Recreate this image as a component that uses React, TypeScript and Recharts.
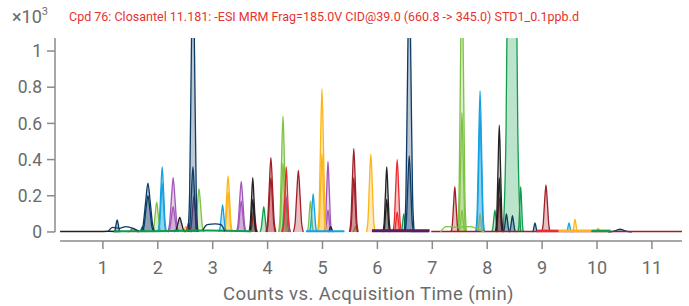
import { Area, ComposedChart, Line, ReferenceLine, XAxis, YAxis } from "recharts";

type Pt = [number, number];

const TITLE = "Cpd 76: Closantel 11.181: -ESI MRM Frag=185.0V CID@39.0 (660.8 -> 345.0) STD1_0.1ppb.d";
const X_TICKS = [1, 2, 3, 4, 5, 6, 7, 8, 9, 10, 11];
const Y_TICKS = [0, 0.2, 0.4, 0.6, 0.8, 1];

// flat / noisy baselines (t, counts x10^3)
const blackBase: Pt[] = [[0.22, 0.002], [0.6, 0.003], [0.9, 0.002], [1.1, 0.004], [1.3, 0.002]];
const navyBase: Pt[] = [[1.1, 0.005], [1.18, 0.025], [1.3, 0.02], [1.42, 0.03], [1.55, 0.02], [1.65, 0.005]];
const navyBase2: Pt[] = [[2.82, 0.01], [2.9, 0.04], [3.05, 0.045], [3.15, 0.04], [3.22, 0.005]];
const navyTail: Pt[] = [[6.6, 0.003], [6.93, 0.003]];
const purpleBase: Pt[] = [[5.9, 0.006], [6.95, 0.006]];
const darkRedBase: Pt[] = [[6.98, 0.003], [11.55, 0.003]];
const redBase: Pt[] = [[8.9, 0.006], [9.3, 0.006]];
const yellowBase: Pt[] = [[9.3, 0.006], [9.9, 0.006]];
const greenBase: Pt[] = [[1.2, 0.004], [1.9, 0.004], [2.9, 0.008], [3.7, 0.004]];
const greenBase2: Pt[] = [[9.9, 0.006], [10.25, 0.006]];
const skyBase: Pt[] = [[4.7, 0.004], [5.4, 0.004]];
const limeNoise: Pt[] = [[7.15, 0], [7.25, 0.03], [7.45, 0.025], [7.7, 0.03], [7.85, 0.012], [7.95, 0]];

// peaks per trace colour
const navyPeaks: Pt[][] = [
  [[1.2, 0], [1.22, 0.009], [1.24, 0.04], [1.26, 0.066], [1.28, 0.04], [1.3, 0.009], [1.32, 0]],
  [[1.69, 0], [1.733, 0.038], [1.777, 0.162], [1.82, 0.27], [1.863, 0.162], [1.907, 0.038], [1.95, 0]],
  [[1.71, 0], [1.747, 0.028], [1.783, 0.12], [1.82, 0.2], [1.857, 0.12], [1.893, 0.028], [1.93, 0]],
  [[2.55, 0], [2.58, 0.22], [2.61, 0.96], [2.64, 1.6], [2.67, 0.96], [2.7, 0.22], [2.73, 0]],
  [[2.56, 0], [2.587, 0.05], [2.613, 0.216], [2.64, 0.36], [2.667, 0.216], [2.693, 0.05], [2.72, 0]],
  [[6.49, 0], [6.52, 0.21], [6.55, 0.9], [6.58, 1.5], [6.61, 0.9], [6.64, 0.21], [6.67, 0]],
  [[6.5, 0], [6.527, 0.059], [6.553, 0.252], [6.58, 0.42], [6.607, 0.252], [6.633, 0.059], [6.66, 0]],
  [[8.29, 0], [8.31, 0.014], [8.33, 0.06], [8.35, 0.1], [8.37, 0.06], [8.39, 0.014], [8.41, 0]],
  [[8.4, 0], [8.42, 0.013], [8.44, 0.054], [8.46, 0.09], [8.48, 0.054], [8.5, 0.013], [8.52, 0]],
  [[8.82, 0], [8.837, 0.007], [8.853, 0.03], [8.87, 0.05], [8.887, 0.03], [8.903, 0.007], [8.92, 0]],
  [[10.2, 0], [10.27, 0.002], [10.35, 0.009], [10.42, 0.015], [10.49, 0.009], [10.57, 0.002], [10.64, 0]],
];
const skyPeaks: Pt[][] = [
  [[2.0, 0], [2.027, 0.05], [2.053, 0.216], [2.08, 0.36], [2.107, 0.216], [2.133, 0.05], [2.16, 0]],
  [[2.01, 0], [2.033, 0.038], [2.057, 0.162], [2.08, 0.27], [2.103, 0.162], [2.127, 0.038], [2.15, 0]],
  [[3.11, 0], [3.133, 0.021], [3.157, 0.09], [3.18, 0.15], [3.203, 0.09], [3.227, 0.021], [3.25, 0]],
  [[4.76, 0], [4.783, 0.029], [4.807, 0.126], [4.83, 0.21], [4.853, 0.126], [4.877, 0.029], [4.9, 0]],
  [[7.79, 0], [7.817, 0.109], [7.843, 0.468], [7.87, 0.78], [7.897, 0.468], [7.923, 0.109], [7.95, 0]],
  [[7.8, 0], [7.823, 0.092], [7.847, 0.396], [7.87, 0.66], [7.893, 0.396], [7.917, 0.092], [7.94, 0]],
  [[9.44, 0], [9.457, 0.007], [9.473, 0.03], [9.49, 0.05], [9.507, 0.03], [9.523, 0.007], [9.54, 0]],
];
const purplePeaks: Pt[][] = [
  [[2.18, 0], [2.213, 0.042], [2.247, 0.18], [2.28, 0.3], [2.313, 0.18], [2.347, 0.042], [2.38, 0]],
  [[2.19, 0], [2.22, 0.02], [2.25, 0.084], [2.28, 0.14], [2.31, 0.084], [2.34, 0.02], [2.37, 0]],
  [[3.43, 0], [3.46, 0.039], [3.49, 0.168], [3.52, 0.28], [3.55, 0.168], [3.58, 0.039], [3.61, 0]],
  [[3.44, 0], [3.467, 0.024], [3.493, 0.102], [3.52, 0.17], [3.547, 0.102], [3.573, 0.024], [3.6, 0]],
  [[4.26, 0], [4.287, 0.027], [4.313, 0.114], [4.34, 0.19], [4.367, 0.114], [4.393, 0.027], [4.42, 0]],
  [[5.03, 0], [5.053, 0.055], [5.077, 0.234], [5.1, 0.39], [5.123, 0.234], [5.147, 0.055], [5.17, 0]],
  [[5.04, 0], [5.06, 0.017], [5.08, 0.072], [5.1, 0.12], [5.12, 0.072], [5.14, 0.017], [5.16, 0]],
];
const magentaPeaks: Pt[][] = [
  [[2.58, 0], [2.607, 0.028], [2.633, 0.12], [2.66, 0.2], [2.687, 0.12], [2.713, 0.028], [2.74, 0]],
];
const limePeaks: Pt[][] = [
  [[1.9, 0], [1.927, 0.023], [1.953, 0.099], [1.98, 0.165], [2.007, 0.099], [2.033, 0.023], [2.06, 0]],
  [[2.66, 0], [2.69, 0.034], [2.72, 0.144], [2.75, 0.24], [2.78, 0.144], [2.81, 0.034], [2.84, 0]],
  [[4.2, 0], [4.227, 0.09], [4.253, 0.384], [4.28, 0.64], [4.307, 0.384], [4.333, 0.09], [4.36, 0]],
  [[4.21, 0], [4.233, 0.053], [4.257, 0.228], [4.28, 0.38], [4.303, 0.228], [4.327, 0.053], [4.35, 0]],
  [[4.72, 0], [4.74, 0.024], [4.76, 0.102], [4.78, 0.17], [4.8, 0.102], [4.82, 0.024], [4.84, 0]],
  [[5.55, 0], [5.567, 0.004], [5.583, 0.018], [5.6, 0.03], [5.617, 0.018], [5.633, 0.004], [5.65, 0]],
  [[7.46, 0], [7.487, 0.21], [7.513, 0.9], [7.54, 1.5], [7.567, 0.9], [7.593, 0.21], [7.62, 0]],
  [[7.47, 0], [7.493, 0.092], [7.517, 0.396], [7.54, 0.66], [7.563, 0.396], [7.587, 0.092], [7.61, 0]],
  [[7.48, 0], [7.5, 0.017], [7.52, 0.072], [7.54, 0.12], [7.56, 0.072], [7.58, 0.017], [7.6, 0]],
];
const greenPeaks: Pt[][] = [
  [[1.66, 0], [1.68, 0.004], [1.7, 0.018], [1.72, 0.03], [1.74, 0.018], [1.76, 0.004], [1.78, 0]],
  [[3.86, 0], [3.883, 0.02], [3.907, 0.084], [3.93, 0.14], [3.953, 0.084], [3.977, 0.02], [4.0, 0]],
  [[4.25, 0], [4.273, 0.032], [4.297, 0.138], [4.32, 0.23], [4.343, 0.138], [4.367, 0.032], [4.39, 0]],
  [[6.43, 0], [6.447, 0.014], [6.463, 0.06], [6.48, 0.1], [6.497, 0.06], [6.513, 0.014], [6.53, 0]],
  [[8.08, 0], [8.1, 0.017], [8.12, 0.072], [8.14, 0.12], [8.16, 0.072], [8.18, 0.017], [8.2, 0]],
  [[8.29, 0], [8.343, 0.56], [8.397, 2.4], [8.45, 4], [8.503, 2.4], [8.557, 0.56], [8.61, 0]],
  [[8.56, 0], [8.577, 0.035], [8.593, 0.15], [8.61, 0.25], [8.627, 0.15], [8.643, 0.035], [8.66, 0]],
];
const redPeaks: Pt[][] = [
  [[1.45, 0], [1.483, 0.003], [1.517, 0.012], [1.55, 0.02], [1.583, 0.012], [1.617, 0.003], [1.65, 0]],
  [[2.5, 0], [2.52, 0.007], [2.54, 0.03], [2.56, 0.05], [2.58, 0.03], [2.6, 0.007], [2.62, 0]],
  [[3.68, 0], [3.703, 0.017], [3.727, 0.072], [3.75, 0.12], [3.773, 0.072], [3.797, 0.017], [3.82, 0]],
  [[4.27, 0], [4.293, 0.05], [4.317, 0.216], [4.34, 0.36], [4.363, 0.216], [4.387, 0.05], [4.41, 0]],
  [[6.28, 0], [6.307, 0.056], [6.333, 0.24], [6.36, 0.4], [6.387, 0.24], [6.413, 0.056], [6.44, 0]],
  [[6.3, 0], [6.32, 0.015], [6.34, 0.066], [6.36, 0.11], [6.38, 0.066], [6.4, 0.015], [6.42, 0]],
  [[8.16, 0], [8.18, 0.027], [8.2, 0.114], [8.22, 0.19], [8.24, 0.114], [8.26, 0.027], [8.28, 0]],
];
const darkRedPeaks: Pt[][] = [
  [[3.97, 0], [4.0, 0.057], [4.03, 0.246], [4.06, 0.41], [4.09, 0.246], [4.12, 0.057], [4.15, 0]],
  [[3.98, 0], [4.007, 0.042], [4.033, 0.18], [4.06, 0.3], [4.087, 0.18], [4.113, 0.042], [4.14, 0]],
  [[4.47, 0], [4.5, 0.048], [4.53, 0.204], [4.56, 0.34], [4.59, 0.204], [4.62, 0.048], [4.65, 0]],
  [[5.49, 0], [5.517, 0.064], [5.543, 0.276], [5.57, 0.46], [5.597, 0.276], [5.623, 0.064], [5.65, 0]],
  [[5.5, 0], [5.523, 0.042], [5.547, 0.18], [5.57, 0.3], [5.593, 0.18], [5.617, 0.042], [5.64, 0]],
  [[7.34, 0], [7.363, 0.035], [7.387, 0.15], [7.41, 0.25], [7.433, 0.15], [7.457, 0.035], [7.48, 0]],
  [[8.99, 0], [9.017, 0.036], [9.043, 0.156], [9.07, 0.26], [9.097, 0.156], [9.123, 0.036], [9.15, 0]],
];
const yellowPeaks: Pt[][] = [
  [[2.45, 0], [2.47, 0.004], [2.49, 0.018], [2.51, 0.03], [2.53, 0.018], [2.55, 0.004], [2.57, 0]],
  [[3.2, 0], [3.227, 0.043], [3.253, 0.186], [3.28, 0.31], [3.307, 0.186], [3.333, 0.043], [3.36, 0]],
  [[3.21, 0], [3.233, 0.031], [3.257, 0.132], [3.28, 0.22], [3.303, 0.132], [3.327, 0.031], [3.35, 0]],
  [[4.91, 0], [4.937, 0.111], [4.963, 0.474], [4.99, 0.79], [5.017, 0.474], [5.043, 0.111], [5.07, 0]],
  [[4.92, 0], [4.943, 0.06], [4.967, 0.258], [4.99, 0.43], [5.013, 0.258], [5.037, 0.06], [5.06, 0]],
  [[5.8, 0], [5.827, 0.06], [5.853, 0.258], [5.88, 0.43], [5.907, 0.258], [5.933, 0.06], [5.96, 0]],
  [[7.82, 0], [7.837, 0.014], [7.853, 0.06], [7.87, 0.1], [7.887, 0.06], [7.903, 0.014], [7.92, 0]],
  [[9.55, 0], [9.567, 0.01], [9.583, 0.042], [9.6, 0.07], [9.617, 0.042], [9.633, 0.01], [9.65, 0]],
  [[9.96, 0], [9.98, 0.003], [10.0, 0.012], [10.02, 0.02], [10.04, 0.012], [10.06, 0.003], [10.08, 0]],
];
const blackPeaks: Pt[][] = [
  [[2.3, 0], [2.333, 0.011], [2.367, 0.048], [2.4, 0.08], [2.433, 0.048], [2.467, 0.011], [2.5, 0]],
  [[3.66, 0], [3.683, 0.042], [3.707, 0.18], [3.73, 0.3], [3.753, 0.18], [3.777, 0.042], [3.8, 0]],
  [[3.67, 0], [3.69, 0.025], [3.71, 0.108], [3.73, 0.18], [3.75, 0.108], [3.77, 0.025], [3.79, 0]],
  [[5.1, 0], [5.117, 0.004], [5.133, 0.018], [5.15, 0.03], [5.167, 0.018], [5.183, 0.004], [5.2, 0]],
  [[6.1, 0], [6.123, 0.05], [6.147, 0.216], [6.17, 0.36], [6.193, 0.216], [6.217, 0.05], [6.24, 0]],
  [[6.11, 0], [6.13, 0.025], [6.15, 0.108], [6.17, 0.18], [6.19, 0.108], [6.21, 0.025], [6.23, 0]],
  [[8.15, 0], [8.173, 0.083], [8.197, 0.354], [8.22, 0.59], [8.243, 0.354], [8.267, 0.083], [8.29, 0]],
  [[8.16, 0], [8.18, 0.042], [8.2, 0.18], [8.22, 0.3], [8.24, 0.18], [8.26, 0.042], [8.28, 0]],
];

const NAVY = "#0d3b66";
const SKY = "#14a2e2";
const PURPLE = "#a156b8";
const MAGENTA = "#8a2c6c";
const LIME = "#7dc242";
const GREEN = "#0f9d4b";
const RED = "#ec2a2f";
const DARK_RED = "#a01f29";
const YELLOW = "#fdb515";
const BLACK = "#222222";
const AXIS = "#8a8a8a";
const TEXT = "#6b6b6b";

const baselines: { color: string; pts: Pt[]; width: number }[] = [
  { color: BLACK, pts: blackBase, width: 1.5 },
  { color: GREEN, pts: greenBase, width: 2 },
  { color: SKY, pts: skyBase, width: 2 },
  { color: NAVY, pts: navyBase, width: 1.3 },
  { color: NAVY, pts: navyBase2, width: 1.3 },
  { color: NAVY, pts: navyTail, width: 1.5 },
  { color: "#5a1c5e", pts: purpleBase, width: 3 },
  { color: DARK_RED, pts: darkRedBase, width: 1.5 },
  { color: RED, pts: redBase, width: 2.5 },
  { color: YELLOW, pts: yellowBase, width: 2.5 },
  { color: GREEN, pts: greenBase2, width: 2.5 },
  { color: LIME, pts: limeNoise, width: 1.3 },
];

const groups: { color: string; peaks: Pt[][] }[] = [
  { color: GREEN, peaks: greenPeaks },
  { color: LIME, peaks: limePeaks },
  { color: PURPLE, peaks: purplePeaks },
  { color: MAGENTA, peaks: magentaPeaks },
  { color: YELLOW, peaks: yellowPeaks },
  { color: SKY, peaks: skyPeaks },
  { color: DARK_RED, peaks: darkRedPeaks },
  { color: RED, peaks: redPeaks },
  { color: BLACK, peaks: blackPeaks },
  { color: NAVY, peaks: navyPeaks },
];

const toRows = (pts: Pt[]) => pts.map(([t, v]) => ({ t, v }));

const X_MIN = 0.1275;
const X_MAX = 11.548;
const Y_MIN = -0.05;
const Y_MAX = 1.072;

export default function App() {
  return (
    <div
      style={{
        position: "absolute",
        left: 0,
        top: 0,
        width: 689,
        height: 306,
        background: "#fff",
        fontFamily: "Roboto, sans-serif",
      }}
    >
      <div style={{ position: "absolute", left: 12, top: 6, fontSize: 18, color: TEXT }}>
        ×10<sup style={{ fontSize: 11, verticalAlign: 0, position: "relative", top: -8 }}>3</sup>
      </div>
      <div
        style={{
          position: "absolute",
          left: 69,
          top: 9,
          fontSize: 12.5,
          color: "#e8322f",
          whiteSpace: "nowrap",
        }}
      >
        {TITLE}
      </div>
      <ComposedChart
        width={689}
        height={306}
        margin={{ top: 38, right: 7, bottom: 0, left: 0 }}
      >
        <XAxis
          type="number"
          dataKey="t"
          domain={[X_MIN, X_MAX]}
          allowDataOverflow
          ticks={X_TICKS}
          axisLine={false}
          tickSize={8}
          tickMargin={12}
          tickLine={{ stroke: AXIS, strokeWidth: 1.5 }}
          tick={{ fill: TEXT, fontSize: 18 }}
          height={65}
          label={{
            value: "Counts vs. Acquisition Time (min)",
            position: "insideBottom",
            offset: 6,
            fill: TEXT,
            fontSize: 18.5,
            letterSpacing: 0.4,
          }}
        />
        <YAxis
          type="number"
          dataKey="v"
          domain={[Y_MIN, Y_MAX]}
          allowDataOverflow
          ticks={Y_TICKS}
          tickFormatter={(v: number) => String(v)}
          axisLine={false}
          width={55}
          tickSize={8}
          tickMargin={5}
          tickLine={{ stroke: AXIS, strokeWidth: 1.5 }}
          tick={{ fill: TEXT, fontSize: 17.5 }}
        />
        <ReferenceLine
          segment={[
            { x: X_MIN, y: 0 },
            { x: X_MIN, y: Y_MAX },
          ]}
          stroke={AXIS}
          strokeWidth={1.5}
        />
        <ReferenceLine
          segment={[
            { x: 0.22, y: Y_MIN },
            { x: X_MAX, y: Y_MIN },
          ]}
          stroke={AXIS}
          strokeWidth={1.5}
        />
        {baselines.map((b, i) => (
          <Line
            key={`base-${i}`}
            data={toRows(b.pts)}
            dataKey="v"
            type="monotone"
            stroke={b.color}
            strokeWidth={b.width}
            dot={false}
            activeDot={false}
            isAnimationActive={false}
          />
        ))}
        {groups.flatMap((g, gi) =>
          g.peaks.map((p, pi) => (
            <Area
              key={`peak-${gi}-${pi}`}
              data={toRows(p)}
              dataKey="v"
              type="monotone"
              stroke={g.color}
              strokeWidth={1.3}
              fill={g.color}
              fillOpacity={0.28}
              dot={false}
              activeDot={false}
              isAnimationActive={false}
            />
          ))
        )}
      </ComposedChart>
    </div>
  );
}
